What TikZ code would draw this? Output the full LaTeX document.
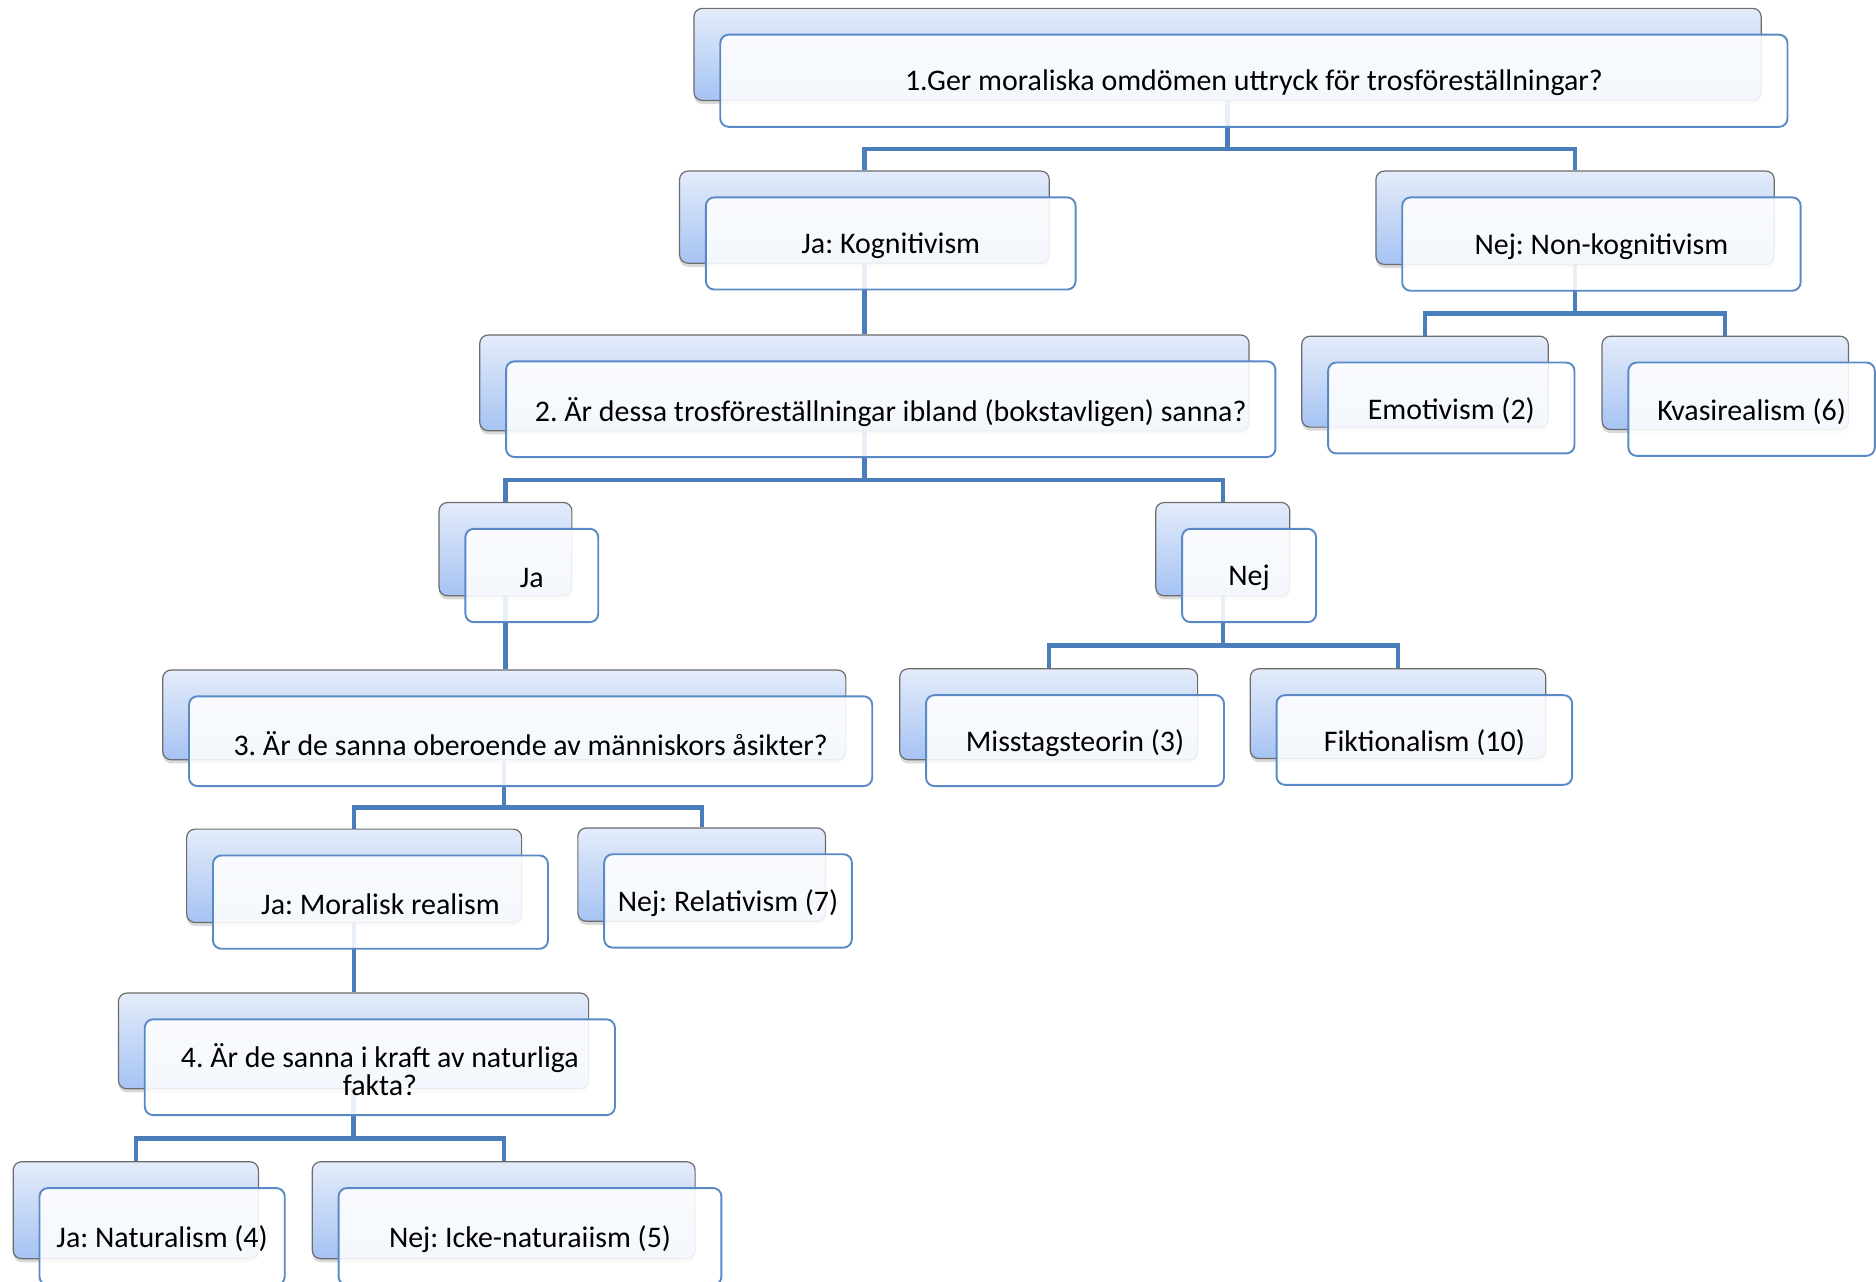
\documentclass[tikz,border=0pt]{standalone}
\usepackage{fontspec}
\setmainfont{Carlito}
\usetikzlibrary{calc,shadows}
\definecolor{lineblue}{HTML}{4A7EBB}
\definecolor{frontblue}{HTML}{5A8AC6}
\definecolor{backtop}{HTML}{E4ECFA}
\definecolor{backbot}{HTML}{A6C3F3}
\tikzset{
 backbox/.style={draw=gray!85!black, line width=0.5pt, rounded corners=3.5pt,
   top color=backtop, bottom color=backbot,
   drop shadow={shadow xshift=0pt, shadow yshift=-1.5pt, opacity=0.3},
   inner sep=0pt},
 frontbox/.style={draw=frontblue, line width=0.8pt, rounded corners=3.5pt,
   fill=white, fill opacity=0.88, inner sep=0pt},
 label/.style={inner sep=0pt, font=\fontsize{12.5}{12}\selectfont, align=center},
 conn/.style={draw=lineblue, line width=1.8pt},
}
\newcommand\bk[5]{\node[backbox, minimum width={(#4-#2)*0.5pt}, minimum height={(#5-#3)*0.5pt}] (#1b) at ({(#2+#4)/2},{(#3+#5)/2}) {};}
\newcommand\fr[6]{\node[frontbox, minimum width={(#4-#2)*0.5pt}, minimum height={(#5-#3)*0.5pt}] (#1f) at ({(#2+#4)/2+22},{(#3+#5)/2+22}) {};
 \node[label] (#1t) at ($(#1f.center)+(0,2)$) {#6};}
\newcommand\fork[3]{%
 \coordinate (#1j) at ($($(#1b.south)+(0,22)$)!0.5!(#2b.north)$);
 \draw[conn] (#1b.south) -- (#1b.south |- #1j);
 \draw[conn] (#2b.north) |- (#1b.south |- #1j) -| (#3b.north);}
\newcommand\single[2]{\draw[conn] (#1b.south) -- (#1b.south |- #2b.north);}
\frenchspacing
\begin{document}
\begin{tikzpicture}[x=0.5pt,y=-0.5pt]
\useasboundingbox (0,0) rectangle (1568,1071);
\clip (0,0) rectangle (1568,1071);
% back boxes
\bk{n1}{580}{7}{1472}{84}
\bk{jak}{568}{143}{877}{220}
\bk{nnk}{1150}{143}{1483}{221}
\bk{qb}{401}{280}{1044}{360}
\bk{emo}{1088}{281}{1294}{357}
\bk{kva}{1339}{281}{1545}{359}
\bk{ja}{367}{420}{478}{498}
\bk{nej}{966}{420}{1078}{498}
\bk{qc}{136}{560}{707}{635}
\bk{mis}{752}{559}{1001}{635}
\bk{fik}{1045}{559}{1292}{634}
\bk{jmr}{156}{693}{436}{771}
\bk{rel}{483}{692}{690}{770}
\bk{qd}{99}{830}{492}{910}
\bk{nat}{11}{971}{216}{1052}
\bk{ick}{261}{971}{581}{1052}
% connectors
\fork{n1}{jak}{nnk}
\single{jak}{qb}
\fork{nnk}{emo}{kva}
\fork{qb}{ja}{nej}
\single{ja}{qc}
\fork{nej}{mis}{fik}
\fork{qc}{jmr}{rel}
\single{jmr}{qd}
\fork{qd}{nat}{ick}
% front boxes with text
\fr{n1}{580}{7}{1472}{84}{1.Ger moraliska omdömen uttryck för trosföreställningar?}
\fr{jak}{568}{143}{877}{220}{Ja: Kognitivism}
\fr{nnk}{1150}{143}{1483}{221}{Nej: Non-kognitivism}
\fr{qb}{401}{280}{1044}{360}{2. Är dessa trosföreställningar ibland (bokstavligen) sanna?}
\fr{emo}{1088}{281}{1294}{357}{Emotivism (2)}
\fr{kva}{1339}{281}{1545}{359}{Kvasirealism (6)}
\fr{ja}{367}{420}{478}{498}{Ja}
\fr{nej}{966}{420}{1078}{498}{Nej}
\fr{qc}{136}{560}{707}{635}{3. Är de sanna oberoende av människors åsikter?}
\fr{mis}{752}{559}{1001}{635}{Misstagsteorin (3)}
\fr{fik}{1045}{559}{1292}{634}{Fiktionalism (10)}
\fr{jmr}{156}{693}{436}{771}{Ja: Moralisk realism}
\fr{rel}{483}{692}{690}{770}{Nej: Relativism (7)}
\fr{qd}{99}{830}{492}{910}{4. Är de sanna i kraft av naturliga\\fakta?}
\fr{nat}{11}{971}{216}{1052}{Ja: Naturalism (4)}
\fr{ick}{261}{971}{581}{1052}{Nej: Icke-naturaiism (5)}
\end{tikzpicture}
\end{document}
